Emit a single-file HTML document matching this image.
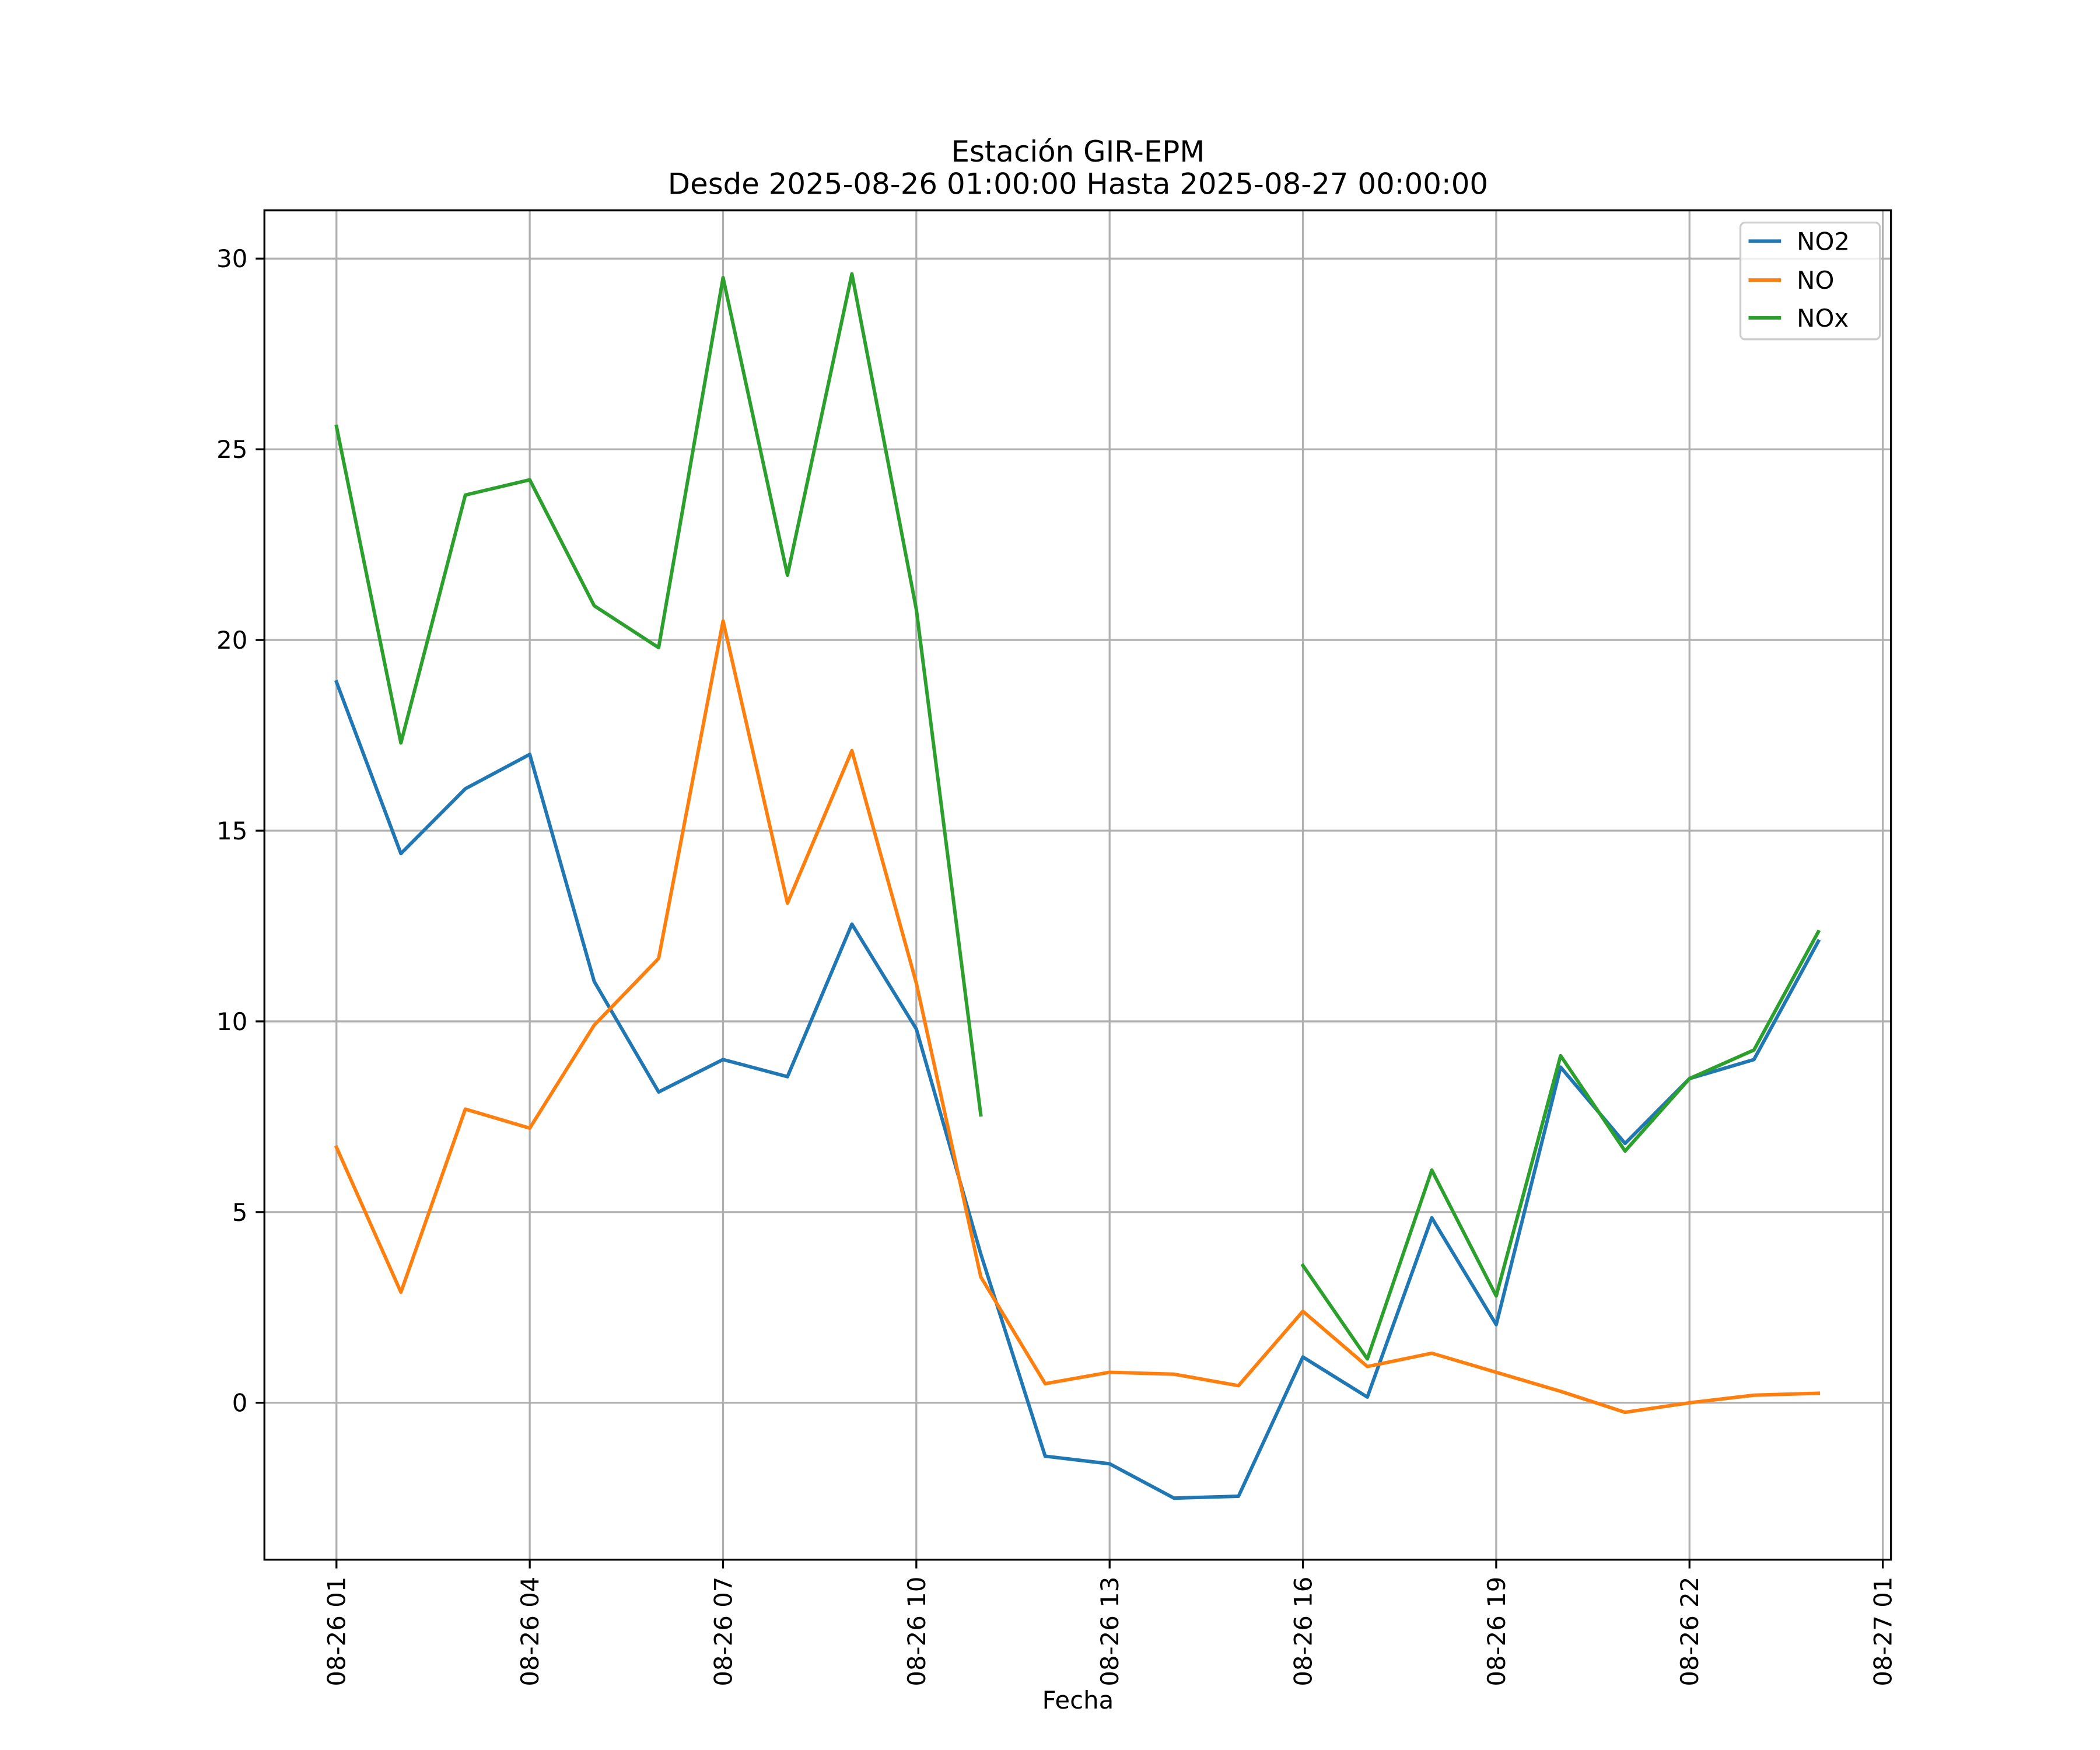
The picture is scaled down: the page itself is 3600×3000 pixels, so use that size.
<!DOCTYPE html>
<html><head><meta charset="utf-8"><style>
html,body{margin:0;padding:0;background:#fff;}
svg{display:block;font-family:"DejaVu Sans","Liberation Sans",sans-serif;}
</style></head><body>
<svg id="chart" width="3600" height="3000" viewBox="0 0 3600 3000" xmlns="http://www.w3.org/2000/svg">
<rect width="3600" height="3000" fill="#fff"/>
<g transform="scale(0.99618)">
<text x="1855" y="278" font-size="50" text-anchor="middle">Estación GIR-EPM</text>
<text x="1855" y="334" font-size="50" text-anchor="middle">Desde 2025-08-26 01:00:00 Hasta 2025-08-27 00:00:00</text>
<g id="grid"></g>
<g id="series"></g>
<rect x="455" y="362" width="2799" height="2322" fill="none" stroke="#000" stroke-width="3.3"/>
<g id="ticks"></g>
<text x="1855" y="2940" font-size="42" text-anchor="middle">Fecha</text>
<g>
<rect x="2995" y="383" width="240" height="201" rx="8" fill="#fff" fill-opacity="0.8" stroke="#ccc" stroke-width="3.3"/>
<line x1="3009" y1="415" x2="3065" y2="415" stroke="#1f77b4" stroke-width="6"/>
<text x="3092" y="430" font-size="42">NO2</text>
<line x1="3009" y1="482" x2="3065" y2="482" stroke="#ff7f0e" stroke-width="6"/>
<text x="3092" y="497" font-size="42">NO</text>
<line x1="3009" y1="547" x2="3065" y2="547" stroke="#2ca02c" stroke-width="6"/>
<text x="3092" y="562" font-size="42">NOx</text>
</g>
</g>
</svg>
<script>
const hours = [1,2,3,4,5,6,7,8,9,10,11,12,13,14,15,16,17,18,19,20,21,22,23,24];
const no2 = [18.9,14.4,16.1,17.0,11.05,8.15,9.0,8.55,12.55,9.8,3.9,-1.4,-1.6,-2.5,-2.45,1.2,0.15,4.85,2.05,8.8,6.8,8.5,9.0,12.1];
const no = [6.7,2.9,7.7,7.2,9.9,11.65,20.5,13.1,17.1,11.0,3.3,0.5,0.8,0.75,0.45,2.4,0.95,1.3,0.8,0.3,-0.25,0.0,0.2,0.25];
const nox = [25.6,17.3,23.8,24.2,20.9,19.8,29.5,21.7,29.6,20.8,7.55,null,null,null,null,3.6,1.15,6.1,2.8,9.1,6.6,8.5,9.25,12.35];
const yTicks = [0,5,10,15,20,25,30];
const xTickHours = [1,4,7,10,13,16,19,22,25];
const xTickLabels = ["08-26 01","08-26 04","08-26 07","08-26 10","08-26 13","08-26 16","08-26 19","08-26 22","08-27 01"];

const NS = "http://www.w3.org/2000/svg";
function xs(h){return 579 + (h-1)*(3240-579)/24;}
function ys(v){return 2414 - v*(2414-445)/30;}
function mk(tag, attrs, parent){const e=document.createElementNS(NS,tag);for(const k in attrs)e.setAttribute(k,attrs[k]);parent.appendChild(e);return e;}
const grid=document.getElementById('grid'), ticks=document.getElementById('ticks'), series=document.getElementById('series');

yTicks.forEach(v=>{
  const y=ys(v);
  const g=mk('line',{x1:455,x2:3254,y1:y,y2:y,stroke:'#b0b0b0','stroke-width':3.3},grid);
  
  
  const t=mk('line',{x1:440,x2:455,y1:y,y2:y,stroke:'#000','stroke-width':3.3},ticks);
  
  
  const l=mk('text',{x:426,y:y+15,'font-size':42,'text-anchor':'end'},ticks);
  l.textContent=String(v);
  
  
});
xTickHours.forEach((h,i)=>{
  const x=xs(h);
  const g=mk('line',{x1:x,x2:x,y1:362,y2:2684,stroke:'#b0b0b0','stroke-width':3.3},grid);
  
  
  const t=mk('line',{x1:x,x2:x,y1:2684,y2:2699,stroke:'#000','stroke-width':3.3},ticks);
  
  
  const l=mk('text',{x:0,y:0,'font-size':42,'text-anchor':'end',transform:`translate(${x+15},2713) rotate(-90)`},ticks);
  l.textContent=xTickLabels[i];
  
  
});
function drawSeries(vals,color,name){
  let d='',pen=false;
  vals.forEach((v,i)=>{
    if(v===null){pen=false;return;}
    d+=(pen?'L':'M')+xs(hours[i]).toFixed(1)+','+ys(v).toFixed(1)+' ';
    pen=true;
  });
  const p=mk('path',{d:d,fill:'none',stroke:color,'stroke-width':6,'stroke-linejoin':'round','stroke-linecap':'square'},series);
  
  
}
drawSeries(no2,'#1f77b4','no2-line');
drawSeries(no,'#ff7f0e','no-line');
drawSeries(nox,'#2ca02c','nox-line');
</script>
</body></html>
